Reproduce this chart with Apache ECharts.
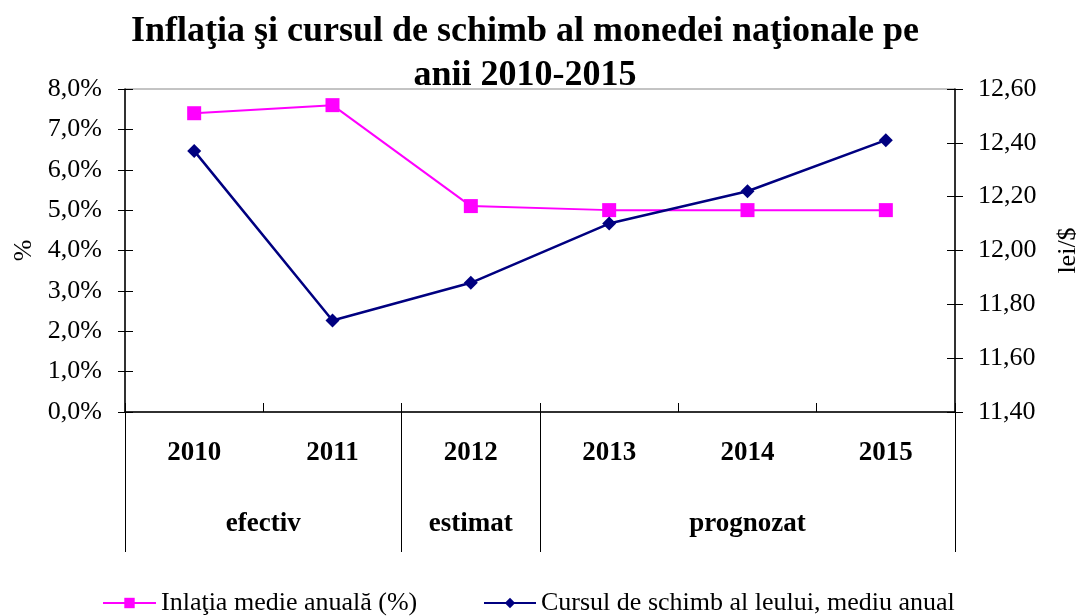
<!DOCTYPE html>
<html>
<head>
<meta charset="utf-8">
<script src="https://cdn.jsdelivr.net/npm/echarts@6/dist/echarts.min.js"></script>
<style>
  html, body { margin: 0; padding: 0; background: #fff; }
  #chart { width: 1076px; height: 616px; }
</style>
</head>
<body>
<div id="chart"></div>
<script>
// date
const years = ['2010', '2011', '2012', '2013', '2014', '2015']
const inflatia = [7.4, 7.6, 5.1, 5.0, 5.0, 5.0]
const curs = [12.37, 11.74, 11.88, 12.10, 12.22, 12.41]
const groupNames = ['efectiv', 'estimat', 'prognozat']
const groupSizes = [2, 1, 3]

const serif = '"Liberation Serif", "DejaVu Serif", serif'

// limitele si mijloacele grupelor, in unitati de categorie
let bounds = [0]
let centers = []
groupSizes.forEach((n) => {
  const start = bounds[bounds.length - 1]
  centers.push(start + n / 2)
  bounds.push(start + n)
})

const fmtPct = (v) => v.toFixed(1).replace('.', ',') + '%'
const fmtLei = (v) => v.toFixed(2).replace('.', ',')

const gridBox = { left: 125, right: 121, top: 89, bottom: 204, outerBoundsMode: 'none' }
const tickStyle = { color: '#000', width: 1 }

const chart = echarts.init(document.getElementById('chart'))

chart.setOption({
  backgroundColor: '#fff',
  animation: false,
  title: {
    text: 'Inflaţia şi cursul de schimb al monedei naţionale pe\nanii 2010-2015',
    left: 520,
    top: 5,
    textAlign: 'center',
    textStyle: { fontFamily: serif, fontSize: 36, fontWeight: 'bold', color: '#000', lineHeight: 44 }
  },
  grid: [
    Object.assign({ show: true, borderColor: '#888', borderWidth: 1 }, gridBox),
    // a doua grila, doar pentru liniutele din interior
    Object.assign({}, gridBox)
  ],
  legend: [
    {
      data: ['Inlaţia medie anuală (%)'],
      left: 102, top: 590,
      padding: 0,
      itemWidth: 53, itemHeight: 13, itemGap: 0,
      textStyle: { fontFamily: serif, fontSize: 26, color: '#000' }
    },
    {
      data: ['Cursul de schimb al leului, mediu anual'],
      left: 483, top: 590,
      padding: 0,
      itemWidth: 52, itemHeight: 13, itemGap: 0,
      textStyle: { fontFamily: serif, fontSize: 26, color: '#000' }
    }
  ],
  xAxis: [
    {
      type: 'category',
      gridIndex: 0,
      data: years,
      boundaryGap: true,
      axisLine: { lineStyle: { color: '#000', width: 1.5 } },
      axisTick: { length: 70, lineStyle: tickStyle },
      axisLabel: { margin: 28, fontFamily: serif, fontSize: 27, fontWeight: 'bold', color: '#000' },
      splitLine: { show: false }
    },
    {
      // nivelul doi: efectiv / estimat / prognozat
      type: 'value',
      gridIndex: 0,
      min: 0, max: years.length,
      position: 'bottom',
      axisLine: { show: false },
      axisTick: { customValues: bounds, length: 140, lineStyle: tickStyle },
      axisLabel: {
        customValues: centers,
        margin: 99,
        fontFamily: serif, fontSize: 27, fontWeight: 'bold', color: '#000',
        formatter: (v) => groupNames[centers.indexOf(v)]
      },
      splitLine: { show: false }
    },
    {
      type: 'value',
      gridIndex: 1,
      min: 0, max: years.length, interval: 1,
      position: 'bottom',
      axisLine: { show: false },
      axisTick: { inside: true, length: 9, lineStyle: tickStyle },
      axisLabel: { show: false },
      splitLine: { show: false }
    }
  ],
  yAxis: [
    {
      type: 'value',
      gridIndex: 0,
      min: 0, max: 8, interval: 1,
      position: 'left',
      name: '%',
      nameLocation: 'middle',
      nameRotate: 90,
      nameGap: 88,
      nameTextStyle: { fontFamily: serif, fontSize: 26, color: '#000' },
      axisLine: { show: true, lineStyle: { color: '#000', width: 1.5 } },
      axisTick: { show: true, length: 7, lineStyle: tickStyle },
      axisLabel: { margin: 23, fontFamily: serif, fontSize: 26, color: '#000', formatter: fmtPct },
      splitLine: { show: false }
    },
    {
      type: 'value',
      gridIndex: 0,
      min: 11.4, max: 12.6, interval: 0.2,
      position: 'right',
      name: 'lei/$',
      nameLocation: 'middle',
      nameRotate: 90,
      nameGap: 100,
      nameTextStyle: { fontFamily: serif, fontSize: 26, color: '#000' },
      axisLine: { show: true, lineStyle: { color: '#000', width: 1.5 } },
      axisTick: { show: true, length: 8, lineStyle: tickStyle },
      axisLabel: { margin: 23, fontFamily: serif, fontSize: 26, color: '#000', formatter: fmtLei },
      splitLine: { show: false }
    },
    {
      type: 'value',
      gridIndex: 1,
      min: 0, max: 8, interval: 1,
      position: 'left',
      axisLine: { show: false },
      axisTick: { show: true, inside: true, length: 8, lineStyle: tickStyle },
      axisLabel: { show: false },
      splitLine: { show: false }
    },
    {
      type: 'value',
      gridIndex: 1,
      min: 11.4, max: 12.6, interval: 0.2,
      position: 'right',
      axisLine: { show: false },
      axisTick: { show: true, inside: true, length: 8, lineStyle: tickStyle },
      axisLabel: { show: false },
      splitLine: { show: false }
    }
  ],
  series: [
    {
      name: 'Inlaţia medie anuală (%)',
      type: 'line',
      xAxisIndex: 0, yAxisIndex: 0,
      data: inflatia,
      symbol: 'rect',
      symbolSize: 14,
      color: '#ff00ff',
      lineStyle: { color: '#ff00ff', width: 2 },
      itemStyle: { color: '#ff00ff' }
    },
    {
      name: 'Cursul de schimb al leului, mediu anual',
      type: 'line',
      xAxisIndex: 0, yAxisIndex: 1,
      data: curs,
      symbol: 'diamond',
      symbolSize: 14,
      color: '#000080',
      lineStyle: { color: '#000080', width: 2.5 },
      itemStyle: { color: '#000080' }
    }
  ]
})
</script>
</body>
</html>
